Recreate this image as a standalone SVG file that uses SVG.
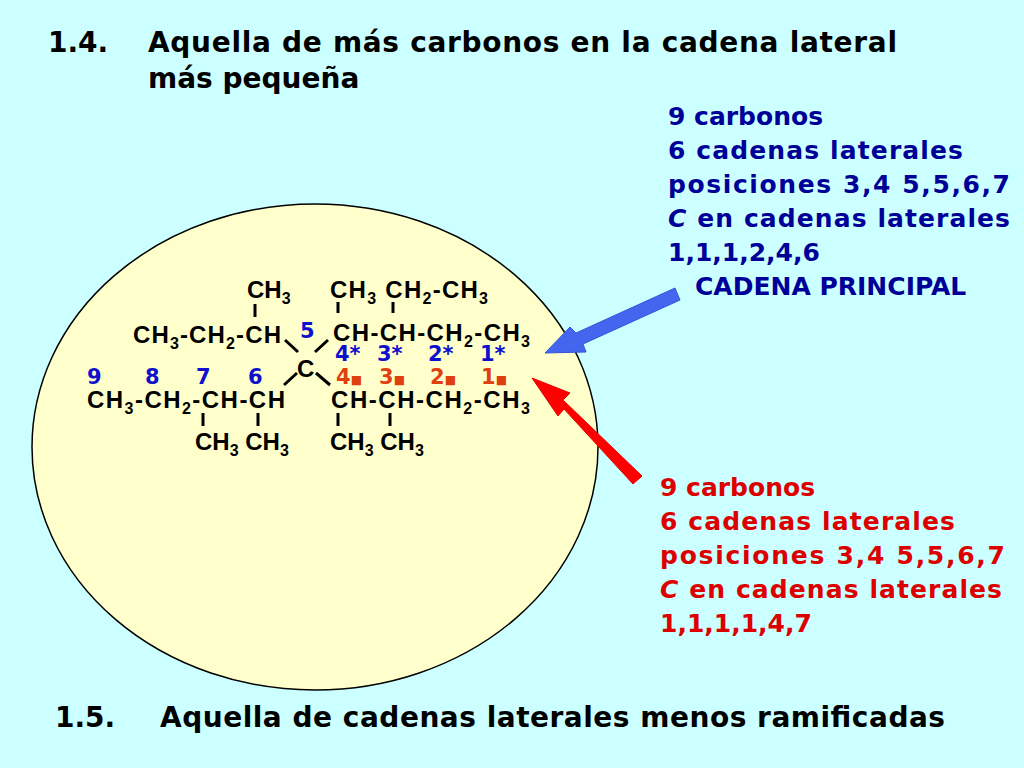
<svg xmlns="http://www.w3.org/2000/svg" width="1024" height="768" viewBox="0 0 1024 768">
<style>
.t{font-family:"DejaVu Sans",sans-serif;font-weight:bold;font-size:28px;fill:#000}
.b{font-family:"DejaVu Sans",sans-serif;font-weight:bold;font-size:25px;fill:#000099}
.r{font-family:"DejaVu Sans",sans-serif;font-weight:bold;font-size:25px;fill:#DD0000}
.m{font-family:"Liberation Sans",Arial,sans-serif;font-weight:bold;font-size:24px;fill:#000}
.n{font-family:"DejaVu Sans",sans-serif;font-weight:bold;font-size:21px;fill:#1010CC}
.o{font-family:"DejaVu Sans",sans-serif;font-weight:bold;font-size:21px;fill:#E04010}
.q{font-size:12px}
.s{font-size:16px}
.bd{stroke:#000;stroke-width:3}
</style>
<rect width="1024" height="768" fill="#CCFFFF"/>
<g id="title">
<text class="t" x="48" y="52">1.4.</text>
<text class="t" x="148" y="52" textLength="749">Aquella de más carbonos en la cadena lateral</text>
<text class="t" x="148" y="88">más pequeña</text>
</g>
<g id="ellipse"><ellipse cx="315" cy="447" rx="283" ry="243" fill="#FFFFCC" stroke="#000" stroke-width="1.5"/></g>
<g id="molecule">
<text class="m" x="247" y="298">CH<tspan class="s" dy="6">3</tspan></text>
<text class="m" x="330" y="298" textLength="158">CH<tspan class="s" dy="6">3</tspan><tspan dy="-6"> CH</tspan><tspan class="s" dy="6">2</tspan><tspan dy="-6">-CH</tspan><tspan class="s" dy="6">3</tspan></text>
<text class="m" x="133" y="343" textLength="148">CH<tspan class="s" dy="6">3</tspan><tspan dy="-6">-CH</tspan><tspan class="s" dy="6">2</tspan><tspan dy="-6">-CH</tspan></text>
<text class="m" x="333" y="341" textLength="197">CH-CH-CH<tspan class="s" dy="6">2</tspan><tspan dy="-6">-CH</tspan><tspan class="s" dy="6">3</tspan></text>
<text class="n" x="300" y="338">5</text>
<text class="n" x="335" y="361">4*</text><text class="n" x="377" y="361">3*</text><text class="n" x="428" y="361">2*</text><text class="n" x="480" y="361">1*</text>
<text class="m" x="297" y="377">C</text>
<text class="n" x="87" y="384">9</text><text class="n" x="145" y="384">8</text><text class="n" x="196" y="384">7</text><text class="n" x="248" y="384">6</text>
<text class="o" x="336" y="384">4<tspan class="q">■</tspan></text><text class="o" x="379" y="384">3<tspan class="q">■</tspan></text><text class="o" x="430" y="384">2<tspan class="q">■</tspan></text><text class="o" x="481" y="384">1<tspan class="q">■</tspan></text>
<text class="m" x="87" y="408" textLength="198">CH<tspan class="s" dy="6">3</tspan><tspan dy="-6">-CH</tspan><tspan class="s" dy="6">2</tspan><tspan dy="-6">-CH-CH</tspan></text>
<text class="m" x="331" y="408" textLength="199">CH-CH-CH<tspan class="s" dy="6">2</tspan><tspan dy="-6">-CH</tspan><tspan class="s" dy="6">3</tspan></text>
<text class="m" x="195" y="450">CH<tspan class="s" dy="6">3</tspan><tspan dy="-6"> CH</tspan><tspan class="s" dy="6">3</tspan></text>
<text class="m" x="330" y="450">CH<tspan class="s" dy="6">3</tspan><tspan dy="-6"> CH</tspan><tspan class="s" dy="6">3</tspan></text>
<g class="bd">
<line x1="255" y1="304" x2="255" y2="317"/><line x1="338" y1="302" x2="338" y2="313"/><line x1="393" y1="302" x2="393" y2="313"/>
<line x1="285" y1="340" x2="298" y2="352"/><line x1="328" y1="340" x2="315" y2="352"/>
<line x1="284" y1="385" x2="297" y2="373"/><line x1="316" y1="373" x2="330" y2="385"/>
<line x1="203" y1="413" x2="203" y2="426"/><line x1="258" y1="413" x2="258" y2="426"/><line x1="338" y1="413" x2="338" y2="426"/><line x1="390" y1="413" x2="390" y2="426"/>
</g>
</g>
<g id="blue-note">
<text class="b" x="668" y="125">9 carbonos</text>
<text class="b" x="668" y="159" textLength="295">6 cadenas laterales</text>
<text class="b" x="668" y="193" textLength="342">posiciones 3,4 5,5,6,7</text>
<text class="b" x="668" y="227" textLength="342"><tspan font-style="italic">C</tspan> en cadenas laterales</text>
<text class="b" x="668" y="261">1,1,1,2,4,6</text>
<text class="b" x="695" y="295">CADENA PRINCIPAL</text>
</g>
<g id="red-note">
<text class="r" x="660" y="496">9 carbonos</text>
<text class="r" x="660" y="530" textLength="295">6 cadenas laterales</text>
<text class="r" x="660" y="564" textLength="345">posiciones 3,4 5,5,6,7</text>
<text class="r" x="660" y="598" textLength="342"><tspan font-style="italic">C</tspan> en cadenas laterales</text>
<text class="r" x="660" y="632">1,1,1,1,4,7</text>
</g>
<g id="connectors">
<polygon points="675,288 680,300 583,344 586,352 545,353 570,327 576,333" fill="#4466EE" stroke="#3355DD" stroke-width="1"/>
<polygon points="642,476 633,484 564,409 558,416 532,378 570,393 563,400" fill="#FF0000" stroke="#EE0000" stroke-width="1"/>
</g>
<g id="footer">
<text class="t" x="55" y="727">1.5.</text>
<text class="t" x="160" y="727" textLength="785">Aquella de cadenas laterales menos ramificadas</text>
</g>
</svg>
